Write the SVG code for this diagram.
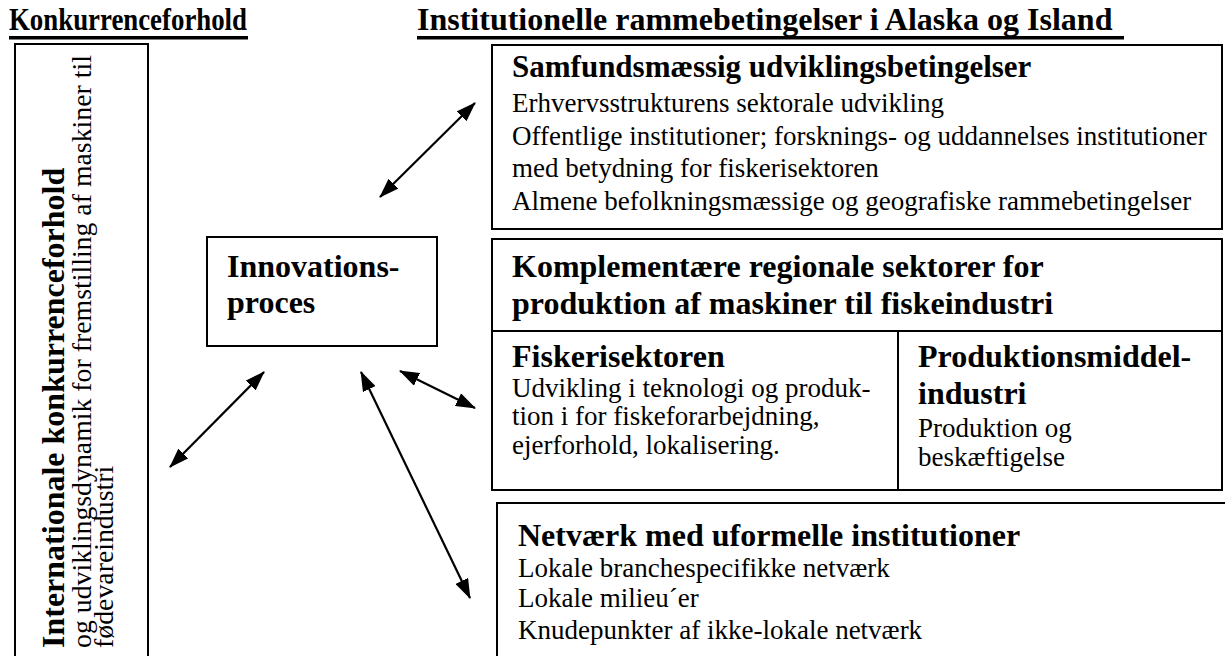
<svg xmlns="http://www.w3.org/2000/svg" width="1225" height="656" viewBox="0 0 1225 656">
<defs>
<style>
text{font-family:"Liberation Serif","Times New Roman",serif;fill:#000}
.hd{font-size:32px;font-weight:bold}
.t{font-size:32px;font-weight:bold}
.b{font-size:27px}
.box{fill:#fff;stroke:#000;stroke-width:2}
.ln{stroke:#000;stroke-width:2;fill:none}
.ar{stroke:#000;stroke-width:2.2;fill:none;marker-start:url(#ah);marker-end:url(#ah)}
</style>
<marker id="ah" viewBox="0 0 20 14" refX="19" refY="7" markerWidth="20" markerHeight="14" markerUnits="userSpaceOnUse" orient="auto-start-reverse">
<path d="M0,0 L20,7 L0,14 Z" fill="#000"/>
</marker>
</defs>
<rect width="1225" height="656" fill="#fff"/>
<g id="headers">
<text class="hd" x="9" y="30" textLength="238" lengthAdjust="spacingAndGlyphs">Konkurrenceforhold</text>
<rect x="9" y="36" width="239" height="3.5" fill="#000"/>
<text class="hd" x="417" y="30">Institutionelle rammebetingelser i Alaska og Island</text>
<rect x="417" y="36" width="707" height="3.5" fill="#000"/>
</g>
<g id="konkurrence">
<rect class="box" x="15" y="44" width="133" height="640"/>
<text class="hd" transform="translate(64,648) rotate(-90)">Internationale konkurrenceforhold</text>
<text style="font-size:27.8px" transform="translate(91,648) rotate(-90)">og udviklingsdynamik for fremstilling af maskiner til</text>
<text style="font-size:27.8px" transform="translate(113,648) rotate(-90)">fødevareindustri</text>
</g>
<g id="innovation">
<rect class="box" x="207" y="237" width="230" height="109"/>
<text class="t" x="227" y="277">Innovations-</text>
<text class="t" x="227" y="313">proces</text>
</g>
<g id="samfund">
<rect class="box" x="492" y="45" width="730" height="184"/>
<text style="font-size:31px;font-weight:bold" x="512" y="77">Samfundsmæssig udviklingsbetingelser</text>
<text class="b" x="512" y="112">Erhvervsstrukturens sektorale udvikling</text>
<text class="b" x="512" y="145">Offentlige institutioner; forsknings- og uddannelses institutioner</text>
<text class="b" x="512" y="177">med betydning for fiskerisektoren</text>
<text class="b" x="512" y="210">Almene befolkningsmæssige og geografiske rammebetingelser</text>
</g>
<g id="komplementaere">
<rect class="box" x="492" y="239" width="730" height="251"/>
<line class="ln" x1="492" y1="331" x2="1222" y2="331"/>
<text class="t" x="512" y="277">Komplementære regionale sektorer for</text>
<text class="t" x="512" y="314">produktion af maskiner til fiskeindustri</text>
</g>
<g id="fiskeri">
<line class="ln" x1="898" y1="331" x2="898" y2="490"/>
<text class="t" x="512" y="367">Fiskerisektoren</text>
<text class="b" x="512" y="397">Udvikling i teknologi og produk-</text>
<text class="b" x="512" y="425">tion i for fiskeforarbejdning,</text>
<text class="b" x="512" y="454">ejerforhold, lokalisering.</text>
</g>
<g id="produktionsmiddel">
<text class="t" x="918" y="367">Produktionsmiddel-</text>
<text class="t" x="918" y="404">industri</text>
<text class="b" x="918" y="437">Produktion og</text>
<text class="b" x="918" y="466">beskæftigelse</text>
</g>
<g id="netvaerk">
<rect class="box" x="497" y="503" width="800" height="300"/>
<text class="t" x="518" y="546">Netværk med uformelle institutioner</text>
<text class="b" x="518" y="577">Lokale branchespecifikke netværk</text>
<text class="b" x="518" y="607">Lokale milieu´er</text>
<text class="b" x="518" y="639">Knudepunkter af ikke-lokale netværk</text>
</g>
<g id="connectors">
<line class="ar" x1="380" y1="197" x2="475" y2="103"/>
<line class="ar" x1="170" y1="467" x2="264" y2="372"/>
<line class="ar" x1="361" y1="372" x2="470" y2="598"/>
<line class="ar" x1="400" y1="371" x2="475" y2="408"/>
</g>
</svg>
